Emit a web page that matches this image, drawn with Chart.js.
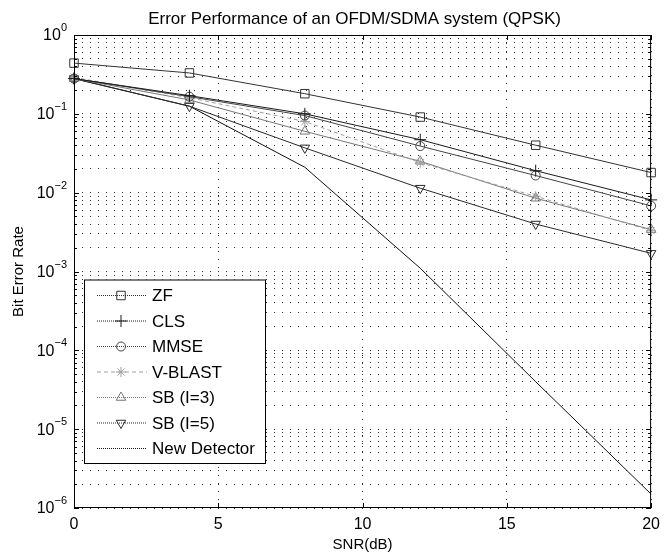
<!DOCTYPE html>
<html lang="en">
<head>
<meta charset="UTF-8">
<title>Error Performance of an OFDM/SDMA system (QPSK)</title>
<script src="https://cdn.jsdelivr.net/npm/chart.js"></script>
<style>
    html, body { margin: 0; padding: 0; background: #fff; }
    .chart-container { width: 667px; height: 555px; }
</style>
</head>
<body>
<div class="chart-container">
    <canvas id="myChart"></canvas>
</div>
<script>
    // values
    const snr = [0, 4, 8, 12, 16, 20];
    const zf      = [0.44, 0.33, 0.18, 0.091, 0.040, 0.018];
    const cls     = [0.28, 0.17, 0.10, 0.047, 0.019, 0.0081];
    const mmse    = [0.28, 0.165, 0.095, 0.039, 0.0165, 0.0068];
    const vblast  = [0.29, 0.16, 0.080, 0.024, 0.0090, 0.0033];
    const sb3     = [0.28, 0.15, 0.060, 0.025, 0.0085, 0.0034];
    const sb5     = [0.28, 0.125, 0.037, 0.0114, 0.0040, 0.0017];
    const newDet  = [0.28, 0.125, 0.021, 0.0011, 0.00004, 0.0000015];
    const xTicks = [0, 5, 10, 15, 20];
    const yDecades = [0, -1, -2, -3, -4, -5, -6];
    const chartTitle = 'Error Performance of an OFDM/SDMA system (QPSK)';

    const FONT = '"Liberation Sans", Arial, Helvetica, sans-serif';

    function pts(vals) {
        return snr.map((x, i) => ({ x: x, y: vals[i] }));
    }

    function series(label, vals, color, style, radius, extra) {
        return Object.assign({
            label: label,
            data: pts(vals),
            borderColor: color,
            borderWidth: 1,
            pointStyle: style,
            pointRadius: radius,
            pointBorderColor: color,
            pointBackgroundColor: 'rgba(0,0,0,0)',
            pointBorderWidth: 1,
            tension: 0,
            clip: false
        }, extra || {});
    }

    const datasets = [
        series('ZF', zf, '#333', 'rect', 6),
        series('CLS', cls, '#1a1a1a', 'cross', 6),
        series('MMSE', mmse, '#444', 'circle', 4.5),
        series('V-BLAST', vblast, '#a0a0a0', 'star', 5, { borderDash: [4, 3] }),
        series('SB (I=3)', sb3, '#777', 'triangle', 5.5),
        series('SB (I=5)', sb5, '#2a2a2a', 'triangle', 5.5, { pointRotation: 180 }),
        series('New Detector', newDet, '#111', false, 0)
    ];

    // title, box, inward ticks, y labels with superscripts and the legend
    const frame = {
        id: 'frame',
        afterDraw(chart) {
            const ctx = chart.ctx;
            const a = chart.chartArea;
            const xs = chart.scales.x, ys = chart.scales.y;
            ctx.save();

            ctx.fillStyle = '#000';
            ctx.font = '17px ' + FONT;
            ctx.textAlign = 'center';
            ctx.textBaseline = 'middle';
            ctx.fillText(chartTitle, (a.left + a.right) / 2 - 8, 19);

            ctx.strokeStyle = '#000';
            ctx.lineWidth = 1;
            ctx.setLineDash([]);
            ctx.strokeRect(a.left + 0.5, a.top + 0.5, a.right - a.left - 1, a.bottom - a.top - 1);

            ctx.beginPath();
            xTicks.forEach(v => {
                const px = Math.round(xs.getPixelForValue(v)) + 0.5;
                ctx.moveTo(px, a.bottom); ctx.lineTo(px, a.bottom - 5);
                ctx.moveTo(px, a.top); ctx.lineTo(px, a.top + 5);
            });
            yDecades.forEach(e => {
                for (let m = 1; m <= 9; m++) {
                    const v = m * Math.pow(10, e);
                    if (v > 1) break;
                    const py = Math.round(ys.getPixelForValue(v)) + 0.5;
                    const len = m === 1 ? 5 : 3;
                    ctx.moveTo(a.left, py); ctx.lineTo(a.left + len, py);
                    ctx.moveTo(a.right, py); ctx.lineTo(a.right - len, py);
                }
            });
            ctx.stroke();

            // y tick labels 10^n
            ctx.fillStyle = '#000';
            ctx.textBaseline = 'middle';
            yDecades.forEach(e => {
                const py = ys.getPixelForValue(Math.pow(10, e));
                const exp = e === 0 ? '0' : '\u2212' + (-e);
                ctx.font = '11px ' + FONT;
                const w = ctx.measureText(exp).width;
                const ex = a.left - 7 - w;
                ctx.textAlign = 'left';
                ctx.fillText(exp, ex, py - 7);
                ctx.font = '16px ' + FONT;
                ctx.textAlign = 'right';
                ctx.fillText('10', ex, py + 1);
            });

            // legend box
            const bx = a.left + 10, bw = 181, rowH = 25.5;
            const bh = datasets.length * rowH + 5;
            const by = a.bottom - 45 - bh;
            ctx.fillStyle = '#fff';
            ctx.fillRect(bx, by, bw, bh);
            ctx.strokeStyle = '#000';
            ctx.strokeRect(bx + 0.5, by + 0.5, bw, bh);
            datasets.forEach((d, i) => {
                const cy = by + 16 + i * rowH;
                ctx.strokeStyle = d.borderColor;
                ctx.lineWidth = 1;
                ctx.setLineDash(d.borderDash || [1, 1]);
                ctx.beginPath();
                ctx.moveTo(bx + 13, cy); ctx.lineTo(bx + 63, cy);
                ctx.stroke();
                ctx.setLineDash([]);
                if (d.pointStyle) {
                    ctx.fillStyle = 'rgba(0,0,0,0)';
                    Chart.helpers.drawPoint(ctx, {
                        pointStyle: d.pointStyle,
                        radius: d.pointRadius,
                        rotation: d.pointRotation || 0,
                        borderWidth: 1
                    }, bx + 37, cy);
                }
                ctx.fillStyle = '#000';
                ctx.font = '17px ' + FONT;
                ctx.textAlign = 'left';
                ctx.fillText(d.label, bx + 68, cy + 1);
            });
            ctx.restore();
        }
    };

    const ctx = document.getElementById('myChart').getContext('2d');
    new Chart(ctx, {
        type: 'line',
        data: { datasets: datasets },
        options: {
            responsive: true,
            maintainAspectRatio: false,
            animation: false,
            layout: { padding: { left: 0, right: 11, top: 35, bottom: 0 } },
            plugins: {
                legend: { display: false },
                tooltip: { enabled: false },
                title: { display: false }
            },
            scales: {
                x: {
                    type: 'linear',
                    min: 0,
                    max: 20,
                    afterBuildTicks: s => { s.ticks = xTicks.map(v => ({ value: v })); },
                    afterFit: s => { s.height = 47; },
                    grid: { color: '#333', lineWidth: 1, drawTicks: false },
                    border: { display: false, dash: [1, 7] },
                    ticks: { color: '#000', padding: 7, font: { family: FONT, size: 16 }, maxRotation: 0 },
                    title: {
                        display: true,
                        text: 'SNR(dB)',
                        color: '#000',
                        font: { family: FONT, size: 15 },
                        padding: { top: 0, bottom: 1 }
                    }
                },
                y: {
                    type: 'logarithmic',
                    min: 1e-6,
                    max: 1,
                    afterBuildTicks: s => {
                        const t = [];
                        yDecades.slice().reverse().forEach(e => {
                            for (let m = 1; m <= 9; m++) {
                                const v = m * Math.pow(10, e);
                                if (v <= 1) t.push({ value: v });
                            }
                        });
                        s.ticks = t;
                    },
                    afterFit: s => { s.width = 74; },
                    grid: { color: '#333', lineWidth: 1, drawTicks: false },
                    border: { display: false, dash: [1, 7] },
                    ticks: { display: false },
                    title: {
                        display: true,
                        text: 'Bit Error Rate',
                        color: '#000',
                        font: { family: FONT, size: 15 },
                        padding: { top: 10, bottom: 0 }
                    }
                }
            }
        },
        plugins: [frame]
    });
</script>
</body>
</html>
